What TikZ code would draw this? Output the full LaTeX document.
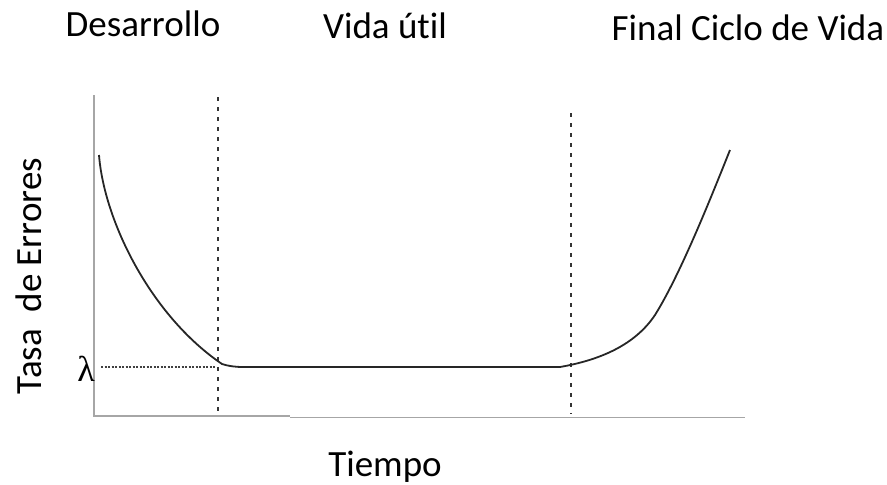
\documentclass[tikz,border=0pt]{standalone}
\usepackage{fontspec}
\setmainfont{Carlito}
\newfontfamily\lamfont{Liberation Serif}
\begin{document}
\begin{tikzpicture}[x=1pt,y=-1pt,
  axis/.style={draw=black!35,line width=1.6pt},
  guide/.style={draw=black!80,line width=1.3pt,dash pattern=on 4pt off 6pt},
  curve/.style={draw=black!85,line width=1.8pt},
  lab/.style={font=\fontsize{37}{42}\selectfont,inner sep=0pt}]
\useasboundingbox (0,0) rectangle (887,485);
% axes
\coordinate (o) at (94,416);
\coordinate (ytop) at (94,95);
\coordinate (xa) at (290,416);
\coordinate (xb) at (290,417.5);
\coordinate (xend) at (745,417.5);
\draw[axis] (ytop) -- (o) -- (xa);
\draw[axis] (xb) -- (xend);
% dashed verticals
\coordinate (d1t) at (218,97);
\coordinate (d1b) at (218,414);
\coordinate (d2t) at (571,113);
\coordinate (d2b) at (571,414);
\draw[guide] (d1t) -- (d1b);
\draw[guide] (d2t) -- (d2b);
% lambda level
\coordinate (l0) at (101,367);
\coordinate (l1) at (216,367);
\draw[draw=black!75,line width=1.2pt,dash pattern=on 2pt off 1.5pt] (l0) -- (l1);
\node[inner sep=0pt,anchor=base,font=\lamfont\fontsize{36}{38}\selectfont] (lam) at (86,381) {λ};
% curve
\coordinate (c0) at (99,155);
\coordinate (c1) at (222,364);
\coordinate (c2) at (243,367);
\coordinate (c3) at (560,367);
\coordinate (c4) at (730,150);
\draw[curve] (c0) .. controls (104,220) and (150,315) .. (c1)
  .. controls (228,366) and (235,367) .. (c2) -- (c3)
  .. controls (600,360) and (635,345) .. (655,315)
  .. controls (680,275) and (710,200) .. (c4);
% labels
\node[lab,anchor=base] (t1) at (143,36) {Desarrollo};
\node[lab,anchor=base] (t2) at (385,38) {Vida út\kern0pt il};
\node[lab,anchor=base] (t3) at (748,40) {Final Ciclo de Vida};
\node[lab,anchor=base] (t4) at (385,476) {Tiempo};
\node[lab,rotate=90] (t5) at (29,276) {Tasa\ \ de Errores};
\end{tikzpicture}
\end{document}
